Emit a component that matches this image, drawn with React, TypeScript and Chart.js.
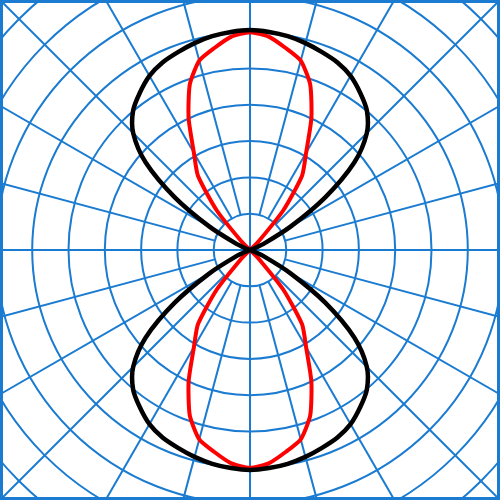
import { useEffect, useRef } from 'react';
import { Chart, registerables } from 'chart.js';

Chart.register(...registerables);

// Angles (degrees, clockwise from top) at which the patterns are sampled
const angles = [
  0, 5, 10, 15, 20, 25, 30, 35, 40, 45, 50, 55, 60, 65, 70, 75, 80, 85,
  90, 95, 100, 105, 110, 115, 120, 125, 130, 135, 140, 145, 150, 155, 160, 165, 170, 175,
  180, 185, 190, 195, 200, 205, 210, 215, 220, 225, 230, 235, 240, 245, 250, 255, 260, 265,
  270, 275, 280, 285, 290, 295, 300, 305, 310, 315, 320, 325, 330, 335, 340, 345, 350, 355,
];

// Black pattern (radius in grid-ring units)
const blackPattern = [
  6.06, 6.03, 5.98, 5.9, 5.8, 5.7, 5.54, 5.29, 5.01, 4.55, 3.75, 2.53, 1.3, 0.45, 0.08, 0, 0, 0,
  0, 0, 0, 0, 0.08, 0.45, 1.3, 2.53, 3.75, 4.55, 5.01, 5.29, 5.54, 5.7, 5.8, 5.9, 5.98, 6.03,
  6.06, 6.03, 5.98, 5.9, 5.8, 5.7, 5.54, 5.29, 5.01, 4.55, 3.75, 2.53, 1.3, 0.45, 0.08, 0, 0, 0,
  0, 0, 0, 0, 0.08, 0.45, 1.3, 2.53, 3.75, 4.55, 5.01, 5.29, 5.54, 5.7, 5.8, 5.9, 5.98, 6.03,
];

// Red pattern (radius in grid-ring units)
const redPattern = [
  6.0, 5.9, 5.65, 5.4, 4.85, 4.0, 3.09, 2.5, 1.43, 0.33, 0, 0, 0, 0, 0, 0, 0, 0,
  0, 0, 0, 0, 0, 0, 0, 0, 0, 0.33, 1.43, 2.5, 3.09, 4.0, 4.85, 5.4, 5.65, 5.9,
  6.0, 5.9, 5.65, 5.4, 4.85, 4.0, 3.09, 2.5, 1.43, 0.33, 0, 0, 0, 0, 0, 0, 0, 0,
  0, 0, 0, 0, 0, 0, 0, 0, 0, 0.33, 1.43, 2.5, 3.09, 4.0, 4.85, 5.4, 5.65, 5.9,
];

// Grid: rings every unit, spokes every 15 degrees
const ringMin = 0;
const ringMax = 10;
const ringStep = 1;
const spokeAngles = [0, 15, 30, 45, 60, 75, 90, 105, 120, 135, 150, 165, 180, 195, 210, 225, 240, 255, 270, 285, 300, 315, 330, 345];
const axisAngles = [0, 90, 180, 270];
const spokeInnerRing = 1;

const BLUE = '#1a7bd1';

const spokePlugin = {
  id: 'spokes',
  beforeDatasetsDraw(chart: any) {
    const scale = chart.scales.r;
    const ctx = chart.ctx as CanvasRenderingContext2D;
    const step = angles[1] - angles[0];
    ctx.save();
    ctx.strokeStyle = BLUE;
    ctx.lineWidth = 2;
    spokeAngles.forEach((a) => {
      const idx = a / step;
      const inner = axisAngles.includes(a) ? ringMin : spokeInnerRing;
      const p0 = scale.getPointPositionForValue(idx, inner);
      const p1 = scale.getPointPositionForValue(idx, ringMax);
      ctx.beginPath();
      ctx.moveTo(p0.x, p0.y);
      ctx.lineTo(p1.x, p1.y);
      ctx.stroke();
    });
    ctx.restore();
  },
};

export default function App() {
  const ref = useRef<HTMLCanvasElement>(null);

  useEffect(() => {
    const chart = new Chart(ref.current as HTMLCanvasElement, {
      type: 'radar',
      data: {
        labels: angles.map((a) => `${a}°`),
        datasets: [
          {
            label: 'black',
            data: blackPattern,
            borderColor: '#000000',
            borderWidth: 4.5,
            pointRadius: 0,
            fill: false,
            tension: 0.3,
            borderJoinStyle: 'round',
          },
          {
            label: 'red',
            data: redPattern,
            borderColor: '#ff0000',
            borderWidth: 4,
            pointRadius: 0,
            fill: false,
            tension: 0.2,
            borderJoinStyle: 'round',
          },
        ],
      },
      options: {
        responsive: false,
        maintainAspectRatio: false,
        animation: false,
        layout: { padding: 0 },
        plugins: {
          legend: { display: false },
          tooltip: { enabled: false },
        },
        scales: {
          r: {
            min: ringMin,
            max: ringMax,
            startAngle: 0,
            ticks: { display: false, stepSize: ringStep },
            grid: { circular: true, color: BLUE, lineWidth: 2 },
            angleLines: { display: false },
            pointLabels: { display: false },
          },
        },
      } as any,
      plugins: [spokePlugin],
    });
    return () => chart.destroy();
  }, []);

  return (
    <div
      style={{
        position: 'fixed',
        left: 0,
        top: 0,
        width: 500,
        height: 500,
        boxSizing: 'border-box',
        border: `3px solid ${BLUE}`,
        overflow: 'hidden',
        background: '#ffffff',
      }}
    >
      <canvas
        ref={ref}
        width={726}
        height={726}
        style={{ position: 'absolute', left: -116, top: -116, width: 726, height: 726 }}
      />
    </div>
  );
}
